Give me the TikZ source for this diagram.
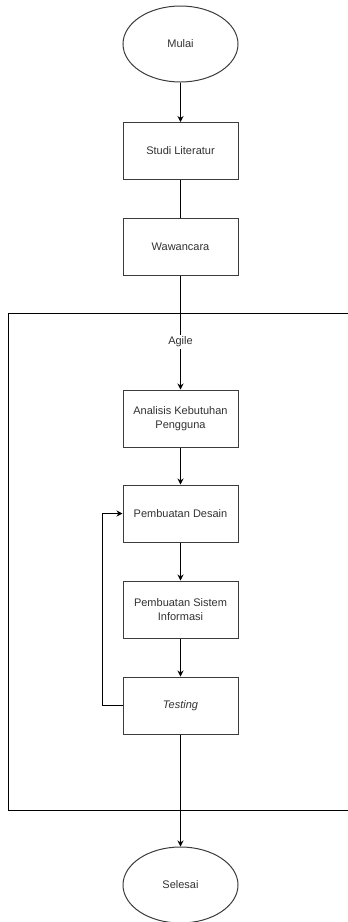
\documentclass[tikz,border=0pt]{standalone}
\usepackage{fontspec}
\setmainfont{Liberation Sans}
\usepackage{tikz}
\usetikzlibrary{arrows.meta,positioning,shapes.geometric}
\definecolor{boxline}{RGB}{60,60,60}
\definecolor{labeltext}{RGB}{50,50,50}
\tikzset{
  stepbox/.style={rectangle, draw=boxline, fill=white, line width=1pt, minimum width=115pt, minimum height=57pt, align=center, font=\fontsize{11}{14}\selectfont, text=labeltext},
  terminal/.style={ellipse, draw=boxline, fill=white, line width=1pt, minimum width=115pt, minimum height=76pt, font=\fontsize{11}{14}\selectfont, text=labeltext},
  flow/.style={-{Stealth[length=6pt,width=6pt]}, line width=1pt, black},
  plainflow/.style={line width=1pt, black},
  frame/.style={draw=black, line width=1pt}
}
\begin{document}
\begin{tikzpicture}[x=1pt,y=-1pt]
  \useasboundingbox (0,0) rectangle (348,922);
  \clip (0,0) rectangle (348,922);
  % agile container
  \draw[frame] (360,313) -- (8,313) -- (8,810) -- (360,810);
  \node[font=\fontsize{11}{14}\selectfont, text=labeltext, fill=white, inner sep=1.5pt] (agile) at (180.5,342) {Agile};

  \node[terminal] (mulai) at (180.5,44) {Mulai};
  \node[stepbox] (studi) at (180.5,151) {Studi Literatur};
  \node[stepbox] (wawan) at (180.5,246.5) {Wawancara};
  \node[stepbox] (analisis) at (180.5,418.5) {Analisis Kebutuhan\\Pengguna};
  \node[stepbox] (desain) at (180.5,513.5) {Pembuatan Desain};
  \node[stepbox] (sistem) at (180.5,609.5) {Pembuatan Sistem\\Informasi};
  \node[stepbox] (testing) at (180.5,705.5) {\textit{Testing}};
  \node[terminal] (selesai) at (180.5,885) {Selesai};

  \draw[flow] (mulai)--(studi);
  \draw[plainflow] (studi)--(wawan);
  \draw[plainflow] (wawan)--(agile);
  \draw[flow] (agile)--(analisis);
  \draw[flow] (analisis)--(desain);
  \draw[flow] (desain)--(sistem);
  \draw[flow] (sistem)--(testing);
  \draw[flow] (testing)--(selesai);
  % loop back
  \draw[flow] (testing.west) -- ++(-20,0) |- (desain.west);
\end{tikzpicture}
\end{document}
